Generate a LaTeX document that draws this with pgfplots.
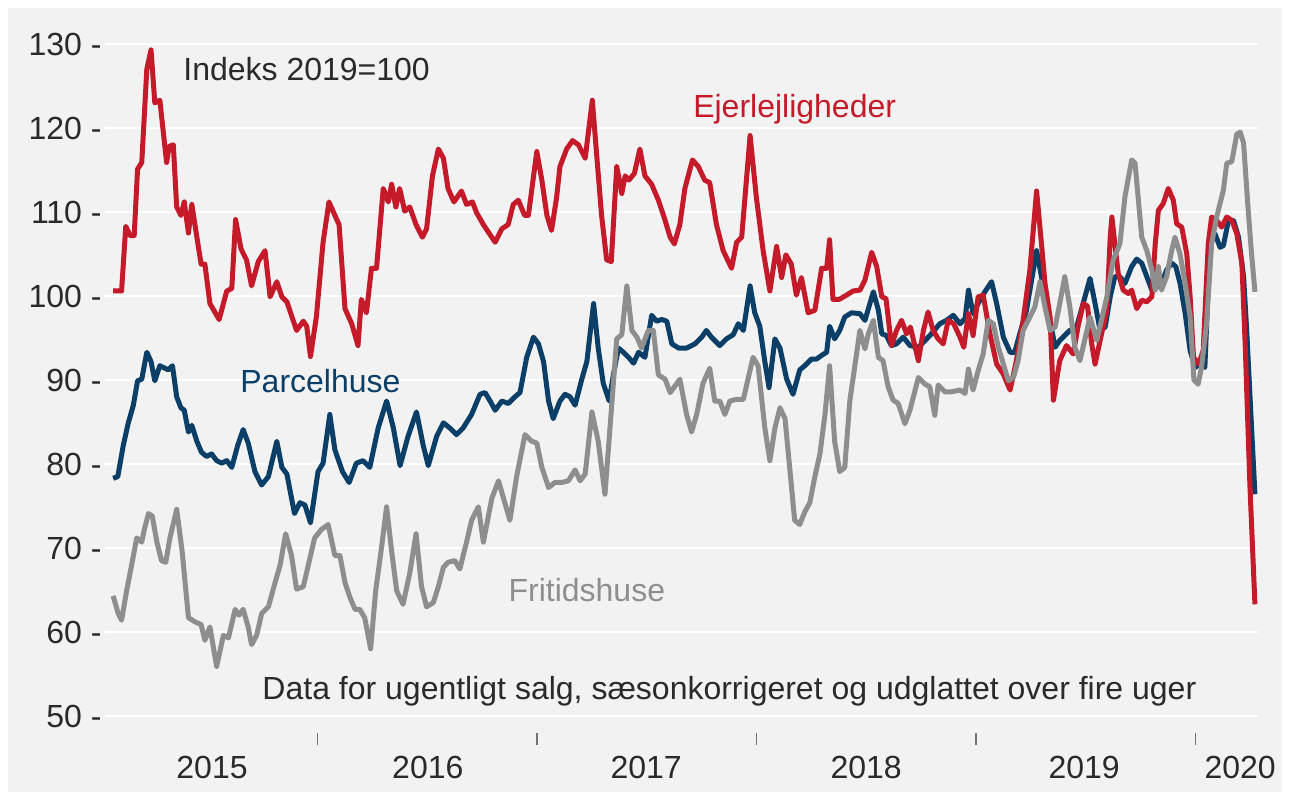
\documentclass[border=0pt]{standalone}
\usepackage{fontspec}
\setmainfont{Liberation Sans}
\usepackage{pgfplots}
\pgfplotsset{compat=1.18}
\definecolor{cRed}{HTML}{C41A2A}
\definecolor{cBlue}{HTML}{0B3F68}
\definecolor{cGray}{HTML}{8E8E8E}
\definecolor{cBg}{HTML}{F2F2F2}
\definecolor{cTxt}{HTML}{2A2A2A}
\newcommand{\lf}{\fontsize{16}{19}\selectfont}
\begin{document}
\begin{tikzpicture}
\useasboundingbox (-52.5pt,-42pt) rectangle (592.5pt,358pt);
\fill[white] (-52.5pt,-42pt) rectangle (592.5pt,358pt);
\fill[cBg] (-48.5pt,-38pt) rectangle (588.5pt,354pt);
\begin{axis}[
  at={(0pt,0pt)}, anchor=south west,
  scale only axis, width=576.5pt, height=336pt,
  xmin=1.66, xmax=275.73, ymin=50, ymax=130,
  axis line style={draw=none},
  tick pos=left,
  ytick={50,60,...,130},
  yticklabels={50 -,60 -,70 -,80 -,90 -,100 -,110 -,120 -,130 -},
  ymajorgrids, major grid style={white, line width=0.8pt},
  xtick={27.1,78.4,130.3,182.6,234.4,271.5},
  xticklabels={2015,2016,2017,2018,2019,2020},
  major tick length=0pt,
  tick style={draw=black!55, line width=0.7pt},
  extra x ticks={52.18,104.36,156.54,208.72,260.9},
  extra x tick labels={},
  extra x tick style={major tick length=6pt, tick align=outside, tick style={yshift=-8.5pt}},
  tick label style={font=\lf, text=cTxt},
  yticklabel style={anchor=east, inner sep=0pt, xshift=-1.5pt},
  xticklabel style={anchor=north, inner sep=0pt, yshift=-20pt},
  /pgf/number format/assume math mode=true,
  every axis plot/.append style={line width=2.5pt, line join=round, no markers},
]
% Parcelhuse
\addplot[cBlue] coordinates {
(3.6,78.3)(4.7,78.5)(6.0,82.2)(7.2,84.9)(8.4,87.0)(9.4,89.9)(10.4,90.1)(11.6,93.3)(12.6,92.2)(13.5,89.9)(14.7,91.7)(15.9,91.4)(16.7,91.2)(17.7,91.7)(18.7,88.0)(19.7,86.7)(20.5,86.4)(21.5,83.8)(22.3,84.6)(23.5,82.7)(24.6,81.4)(25.8,80.9)(27.0,81.2)(28.2,80.4)(29.4,80.1)(30.6,80.4)(31.8,79.6)(33.2,82.2)(34.5,84.1)(35.7,82.5)(37.3,79.1)(38.9,77.5)(40.5,78.5)(42.5,82.7)(43.7,79.6)(44.9,78.8)
(46.7,74.1)(48.0,75.4)(49.2,75.1)(50.5,73.0)(52.3,79.1)(53.5,80.1)(55.1,85.9)(56.3,81.7)(58.1,79.1)(59.7,77.8)(61.4,80.1)(63.0,80.4)(64.6,79.6)(66.6,84.3)(68.6,87.5)(70.2,84.3)(71.8,79.8)(73.7,83.3)(75.7,86.2)(77.3,82.2)(78.5,79.8)(80.5,83.3)(82.1,84.9)(83.6,84.3)(85.2,83.5)(86.8,84.3)(88.8,85.9)(90.8,88.3)
(92.0,88.5)(93.2,87.5)(94.4,86.4)(96.0,87.5)(97.5,87.2)(99.1,88.0)(100.3,88.5)(101.9,92.7)(103.5,95.1)(104.7,94.3)(105.9,92.2)(107.1,87.5)(108.2,85.4)(109.8,87.5)(111.0,88.3)(112.2,88.0)(113.4,87.0)(115.0,90.1)(116.2,92.2)(117.8,99.1)(118.9,93.8)(120.1,89.6)(121.5,87.5)(122.5,90.6)(123.7,93.8)(124.9,93.3)(126.1,92.7)(127.3,92.0)(128.5,93.3)(130.0,92.7)(131.6,97.7)(132.8,97.0)(134.0,97.2)(135.2,97.0)(136.4,94.3)(138.0,93.8)
(139.9,93.8)(141.9,94.3)(143.5,95.1)(144.6,95.9)(145.8,95.1)(147.8,94.1)(149.4,94.9)(151.0,95.4)(152.2,96.7)(153.4,95.9)(155.0,101.2)(156.1,98.0)(157.3,96.4)(158.5,92.2)(159.5,89.1)(160.9,94.9)(162.1,93.8)(163.7,90.1)(165.2,88.3)(166.8,91.2)(168.0,91.7)(169.6,92.5)(170.8,92.5)(172.2,93.0)(173.2,93.3)(173.9,96.4)(175.1,94.9)(176.3,95.9)(177.5,97.5)(179.1,98.0)
(181.1,97.9)(182.3,97.1)(184.3,100.5)(185.5,98.3)(186.3,95.5)(187.4,95.3)(188.6,94.1)(189.8,94.3)(191.4,95.1)(193.0,94.1)(195.0,93.9)(196.6,94.7)(198.1,95.5)(200.1,96.7)(201.7,97.1)(203.3,97.7)(204.9,96.7)(206.1,97.3)(206.9,100.7)(208.0,97.9)(209.2,99.1)(210.8,100.5)(212.4,101.7)(213.6,99.1)(215.2,95.1)(216.8,93.3)(217.9,93.3)(219.1,95.5)(220.7,98.3)(223.1,105.4)(224.7,101.1)(226.3,97.1)(227.5,93.9)(228.6,94.7)(231.0,95.9)(232.6,96.3)(234.6,99.9)(235.8,102.1)(237.0,99.1)(238.2,95.9)(239.4,96.3)(240.6,99.9)(241.7,102.3)(242.9,102.3)(244.1,101.5)(245.7,103.5)(246.9,104.4)(248.1,103.9)(249.3,102.3)(250.5,100.7)(251.7,101.1)(252.8,101.5)(254.0,103.1)(255.2,103.9)(256.2,103.5)(257.2,101.5)(258.4,98.0)(259.6,93.5)(260.8,91.5)(261.9,91.9)(263.1,91.5)(264.3,106.2)(265.5,107.4)(266.7,105.8)(267.5,106.0)(268.7,109.0)(269.9,109.0)(271.1,107.0)(272.3,102.3)(273.0,96.3)(275.0,76.4)
};
% Ejerlejligheder
\addplot[cRed] coordinates {
(3.6,100.6)(5.6,100.6)(6.6,108.3)(7.6,107.2)(8.6,107.2)(9.4,115.1)(10.4,115.9)(11.6,127.0)(12.6,129.3)(13.5,123.0)(14.7,123.3)(15.5,119.6)(16.3,115.9)(16.9,117.8)(17.9,118.0)(18.7,110.6)(19.7,109.6)(20.5,111.2)(21.5,107.5)(22.3,110.9)(23.5,107.0)(24.5,103.8)(25.4,103.8)(26.6,99.1)(28.8,97.2)(30.6,100.6)(31.8,100.9)(32.7,109.1)(34.0,105.6)(35.3,104.3)(36.5,101.2)(38.1,104.1)(39.7,105.4)(40.9,99.9)(42.5,101.7)(43.7,99.9)(44.9,99.3)
(47.2,95.9)(48.8,97.0)(49.6,96.4)(50.5,92.8)(51.9,97.5)(53.5,106.4)(54.9,111.2)(56.3,109.6)(57.3,108.5)(58.7,98.5)(60.3,96.7)(61.8,94.1)(62.6,99.6)(63.8,98.0)(65.0,103.3)(66.2,103.3)(67.8,112.8)(69.0,111.2)(69.8,113.3)(70.8,110.6)(71.7,112.8)(72.9,110.1)(74.1,110.6)(75.6,108.5)(77.1,107.0)(78.1,108.0)(79.5,114.3)(80.9,117.5)(82.1,116.4)(83.2,112.8)(84.6,111.2)(86.4,112.5)(87.6,110.9)(89.0,111.2)(90.0,109.9)(91.6,108.5)
(94.4,106.4)(96.0,108.0)(97.5,108.5)(98.7,110.9)(99.9,111.4)(101.4,109.6)(102.3,109.6)(104.3,117.2)(105.5,113.8)(106.7,109.6)(107.8,107.8)(109.0,111.7)(109.8,115.4)(111.4,117.5)(112.8,118.5)(114.2,118.0)(115.8,116.4)(117.5,123.3)(118.5,117.0)(119.7,109.6)(120.9,104.3)(122.0,104.1)(123.3,115.4)(124.5,112.2)(125.3,114.3)(126.2,113.8)(127.5,114.6)(128.8,117.5)(130.0,114.3)(131.6,113.3)(133.2,111.4)(134.6,109.3)(136.0,107.0)(137.0,106.2)
(138.3,108.5)(139.5,112.8)(141.3,116.2)(142.7,115.4)(144.2,113.8)(145.4,113.5)(147.0,108.5)(148.6,105.4)(150.6,103.3)(151.8,106.4)(153.0,107.0)(155.0,119.1)(156.5,111.7)(158.1,105.4)(159.7,100.6)(161.3,105.9)(162.5,102.2)(163.5,104.9)(164.8,103.8)(166.0,100.1)(167.2,102.2)(168.8,98.0)(170.4,98.3)(172.0,103.3)(173.2,103.3)(173.9,106.7)(174.7,99.6)(176.2,99.6)(177.9,100.1)(179.5,100.6)
(181.1,100.7)(182.3,101.9)(183.9,105.2)(185.1,103.5)(186.3,99.9)(187.3,99.7)(188.6,94.1)(189.8,95.9)(191.0,97.1)(192.2,95.5)(193.1,96.3)(195.0,92.3)(196.2,95.9)(197.3,98.1)(198.5,95.9)(199.7,94.9)(200.9,94.3)(202.1,97.1)(203.4,96.7)(204.9,95.1)(205.8,93.9)(206.9,97.9)(208.0,95.3)(209.2,99.9)(210.4,100.1)(212.0,95.5)(213.6,91.9)(215.2,90.7)(216.8,88.8)(218.3,92.3)(219.9,97.1)(221.5,103.1)(223.1,112.5)(224.3,106.0)(225.1,101.5)(226.3,97.5)(227.1,87.6)(228.6,92.3)(230.2,94.1)(231.8,93.1)(233.0,96.5)(234.2,99.1)(235.2,98.8)(236.2,94.3)(237.0,91.9)(238.2,94.7)(239.8,98.3)(240.6,107.0)(241.0,109.4)(241.7,106.2)(242.5,102.7)(243.7,100.7)(244.9,100.3)(245.7,100.7)(246.9,98.5)(248.1,99.5)(249.3,99.3)(250.5,99.9)(251.3,106.2)(252.05,110.2)(253.2,111.0)(254.4,112.8)(255.6,111.4)(256.4,108.6)(257.6,108.2)(258.8,105.0)(259.6,99.9)(260.4,92.7)(261.6,91.9)(262.7,93.5)(263.9,106.2)(264.7,109.4)(265.9,109.0)(267.1,108.2)(268.3,109.4)(269.5,109.0)(270.7,107.4)(271.9,103.9)(272.7,94.0)(273.8,77.5)(275.0,63.3)
};
% Fritidshuse
\addplot[cGray] coordinates {
(3.6,64.3)(4.8,62.2)(5.6,61.4)(6.8,64.9)(8.0,68.0)(9.2,71.2)(10.4,70.7)(11.0,72.2)(12.0,74.1)(12.9,73.8)(14.0,70.7)(15.1,68.5)(16.1,68.3)(17.1,71.2)(18.7,74.6)(20.0,69.6)(21.5,61.7)(23.1,61.2)(24.5,60.9)(25.4,59.0)(26.6,60.6)(28.2,55.9)(29.8,59.6)(31.0,59.3)(32.6,62.7)(33.5,62.0)(34.5,62.7)(35.7,60.6)(36.5,58.5)(37.7,59.6)(38.9,62.2)(40.5,63.0)(42.1,65.9)(43.3,68.0)(44.6,71.7)(46.0,69.1)(47.2,65.1)(48.8,65.4)
(50.0,68.0)(51.5,71.2)(53.1,72.2)(54.7,72.8)(56.3,69.1)(57.5,69.1)(58.7,65.9)(59.9,64.1)(61.1,62.7)(62.2,62.7)(63.4,61.7)(64.8,58.0)(66.0,64.9)(67.4,70.1)(68.6,74.9)(69.8,69.6)(71.0,64.9)(72.5,63.3)(74.1,67.0)(75.6,71.7)(76.9,65.4)(78.1,63.0)(79.7,63.5)(80.9,65.4)(82.1,67.7)(83.2,68.3)(84.8,68.5)(86.0,67.5)(87.6,70.7)(88.8,73.3)(90.4,74.9)(91.6,70.7)
(93.6,75.9)(95.2,78.0)(96.4,75.9)(97.9,73.3)(99.5,78.5)(101.5,83.5)(103.1,82.7)(104.3,82.5)(105.5,79.6)(107.1,77.2)(108.6,77.8)(110.2,77.8)(111.8,78.0)(113.4,79.3)(114.6,78.0)(115.8,78.8)(117.4,86.2)(118.9,82.7)(120.5,76.4)(121.7,84.3)(123.3,94.9)(124.5,95.4)(125.7,101.2)(126.9,95.9)(128.1,95.1)(129.2,93.8)(130.8,95.9)(132.0,95.9)(133.2,90.6)(134.8,90.1)(136.0,88.5)(137.6,89.6)
(138.3,90.1)(139.9,85.9)(141.1,83.8)(142.3,85.9)(143.8,89.6)(145.4,91.4)(146.6,87.5)(147.8,87.5)(149.0,85.9)(150.2,87.5)(151.8,87.7)(153.4,87.7)(154.5,90.1)(155.7,92.7)(156.9,91.7)(158.5,84.3)(159.7,80.4)(160.9,84.3)(162.1,86.7)(163.3,85.4)(164.4,79.6)(165.6,73.3)(166.8,72.8)(168.0,74.3)(169.2,75.4)(170.4,78.5)(171.6,81.2)(172.8,85.9)(173.9,91.7)(175.1,82.7)(176.3,79.1)(177.5,79.6)(178.7,87.5)(179.9,91.7)
(181.1,95.9)(182.3,93.7)(183.1,95.5)(184.3,97.1)(185.5,92.7)(186.6,92.3)(187.8,89.2)(189.0,87.6)(190.2,87.2)(191.8,84.8)(193.0,86.4)(195.0,90.3)(196.6,89.5)(197.7,89.2)(198.9,85.8)(199.7,89.4)(201.3,88.6)(202.9,88.6)(204.9,88.8)(206.1,88.4)(206.9,91.3)(208.0,88.8)(209.2,91.1)(210.4,93.1)(211.6,97.1)(212.8,96.7)(214.0,93.9)(215.2,91.9)(216.4,89.9)(217.6,90.3)(218.7,92.3)(219.9,95.9)(221.5,97.5)(222.7,98.7)(223.9,101.7)(225.1,98.7)(226.3,95.9)(227.5,96.3)(228.6,99.1)(229.8,102.3)(231.0,98.7)(232.2,93.9)(233.4,92.3)(235.8,97.5)(237.4,94.7)(239.8,99.9)(241.3,104.3)(242.9,106.2)(244.1,111.8)(245.7,116.2)(246.5,115.8)(247.3,111.4)(248.1,107.0)(249.3,105.4)(250.5,103.1)(251.3,100.7)(252.05,103.5)(252.8,100.7)(254.0,102.3)(255.2,105.4)(256.0,107.0)(257.2,105.0)(258.4,101.5)(259.6,97.5)(260.5,90.0)(261.5,89.5)(262.3,91.5)(263.5,96.7)(264.7,106.2)(265.9,109.4)(267.5,112.6)(268.3,115.8)(269.5,116.0)(270.7,119.3)(271.5,119.5)(272.3,118.2)(273.4,110.2)(274.2,105.0)(275.0,100.5)
};
\node[anchor=base west, inner sep=0pt, font=\lf, text=cTxt] at (axis cs:20.2,125.7) {Indeks 2019=100};
\node[anchor=base west, inner sep=0pt, font=\lf, text=cRed] at (axis cs:141.4,121.2) {Ejerlejligheder};
\node[anchor=base west, inner sep=0pt, font=\lf, text=cBlue] at (axis cs:33.75,88.5) {Parcelhuse};
\node[anchor=base west, inner sep=0pt, font=\lf, text=cGray] at (axis cs:97.5,63.65) {Fritidshuse};
\node[anchor=base west, inner sep=0pt, font=\lf, text=cTxt] at (axis cs:39.0,52.0) {Data for ugentligt salg, sæsonkorrigeret og udglattet over fire uger};
\end{axis}
\end{tikzpicture}
\end{document}
